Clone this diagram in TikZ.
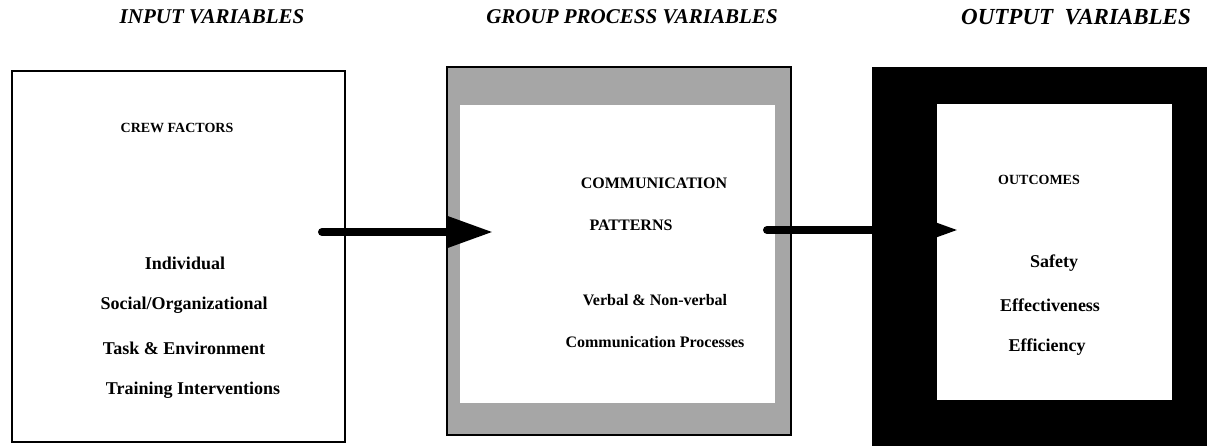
\documentclass[tikz,border=0pt]{standalone}
\usepackage{fontspec}
\setmainfont{Liberation Serif}
\usetikzlibrary{arrows.meta}
\tikzstyle{heading} = [font=\bfseries\itshape\fontsize{21}{24}\selectfont, inner sep=0pt]
\tikzstyle{boxtext} = [font=\bfseries\fontsize{16}{19}\selectfont, inner sep=0pt]
\tikzstyle{boxhead} = [font=\bfseries\fontsize{14}{17}\selectfont, inner sep=0pt]
\tikzstyle{listtext} = [font=\bfseries\fontsize{18}{21}\selectfont, inner sep=0pt]
\tikzstyle{plainbox} = [rectangle, draw, line width=2pt, fill=white, sharp corners, inner sep=0pt]
\tikzstyle{framebox} = [rectangle, draw, line width=2.5pt, fill=black!35, inner sep=0pt]
\tikzstyle{blackbox} = [rectangle, fill=black, inner sep=0pt]
\tikzstyle{window} = [rectangle, fill=white, inner sep=0pt]
\tikzstyle{flow} = [draw, line width=8pt, line cap=round, -{Triangle[length=46pt,width=30pt]}]

\begin{document}
\begin{tikzpicture}[x=1pt, y=-1pt]
    \useasboundingbox (0,0) rectangle (1207,445);
    % headings
    \node[heading] (inhead) at (212,17) {INPUT VARIABLES};
    \node[heading] (prochead) at (632,17) {GROUP PROCESS VARIABLES};
    \node[heading, anchor=west, font=\bfseries\itshape\fontsize{23}{26}\selectfont] (outhead) at (961,17) {OUTPUT\ \ VARIABLES};
    % boxes
    \node[plainbox, minimum width=333pt, minimum height=371pt] (crew) at (178.5,256.5) {};
    \node[framebox, minimum width=344pt, minimum height=368pt] (comm) at (619,251) {};
    \node[window, minimum width=315pt, minimum height=298pt] (commin) at (617.5,254) {};
    \node[blackbox, minimum width=343pt, minimum height=388pt] (outc) at (1043.5,261) {};
    \node[window, minimum width=235pt, minimum height=296pt] (outcin) at (1054.5,252) {};
    % box texts
    \node[boxhead] (crewt) at (177,128) {CREW FACTORS};
    \node[listtext] (indiv) at (185,263) {Individual};
    \node[listtext] (social) at (184,305) {Social/Organizational};
    \node[listtext] (task) at (184,348) {Task \& Environment};
    \node[listtext] (train) at (193,390) {Training Interventions};
    \node[boxtext] (commt) at (654,183) {COMMUNICATION};
    \node[boxtext] (patt) at (631,225) {PATTERNS};
    \node[boxtext] (verbal) at (655,300) {Verbal \& Non-verbal};
    \node[boxtext] (procs) at (655,342) {Communication Processes};
    \node[boxhead] (outt) at (1039,180) {OUTCOMES};
    \node[listtext] (safe) at (1054,263) {Safety};
    \node[listtext] (effect) at (1050,305) {Effectiveness};
    \node[listtext] (effic) at (1047,347) {Efficiency};
    % draw arrows
    \coordinate (a1s) at (322,232);
    \coordinate (a1e) at (493,232);
    \coordinate (a2s) at (767,230);
    \coordinate (a2e) at (958,230);
    \path[flow] (a1s) -- (a1e);
    \path[flow] (a2s) -- (a2e);
\end{tikzpicture}
\end{document}
